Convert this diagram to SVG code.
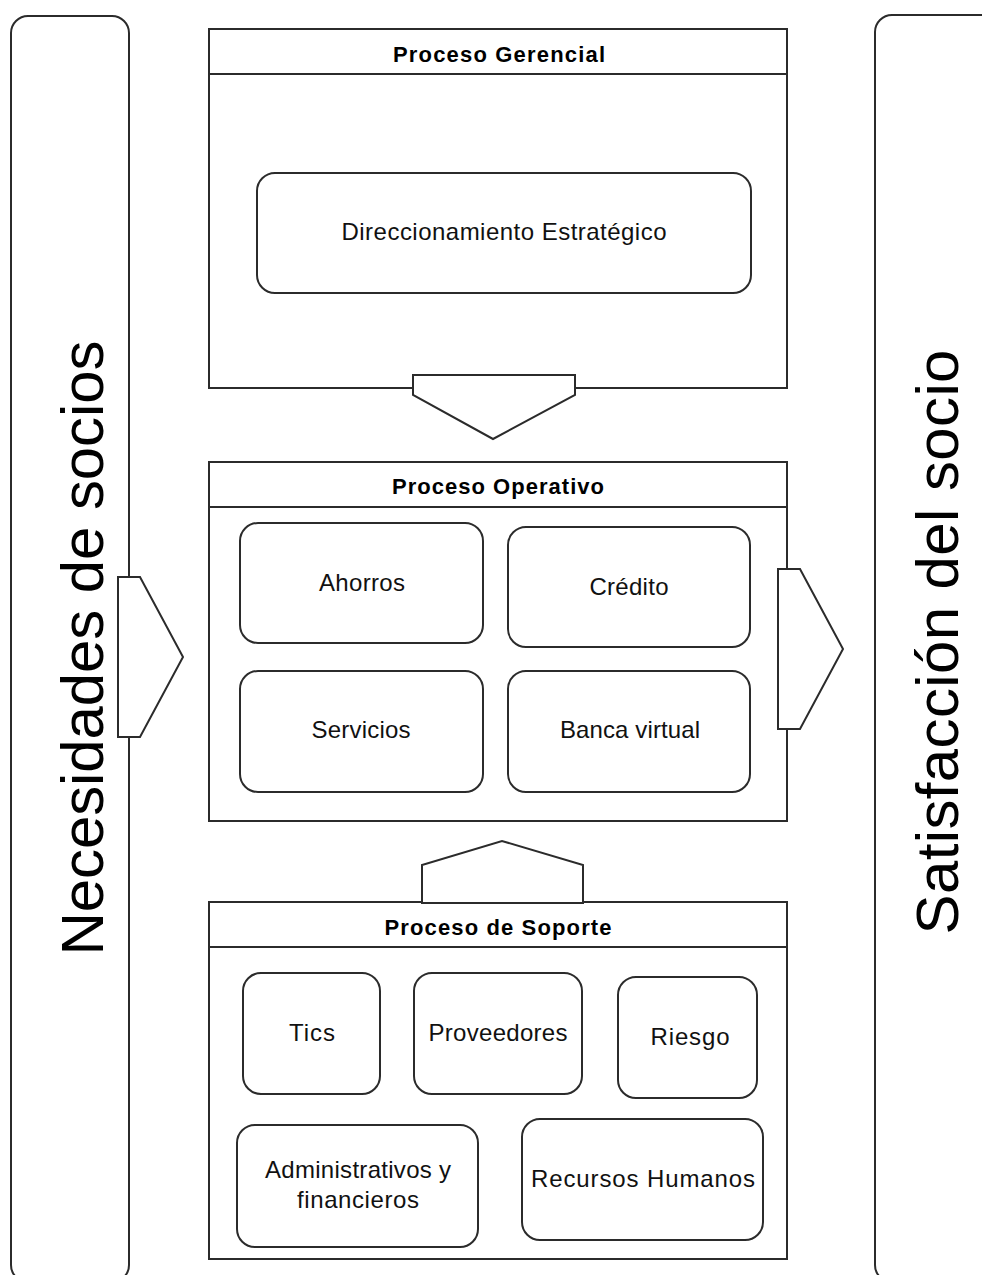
<svg xmlns="http://www.w3.org/2000/svg" width="982" height="1275" viewBox="0 0 982 1275">
<style>
.box{fill:#fff;stroke:#2b2b2b;stroke-width:2}
.line{fill:none;stroke:#2b2b2b;stroke-width:2}
.hdr{font-family:"Liberation Sans",Arial,sans-serif;font-weight:bold;font-size:22px;fill:#000;text-anchor:middle}
.lbl{font-family:"Liberation Sans",Arial,sans-serif;font-size:24px;fill:#111;text-anchor:middle}
.big{font-family:"Liberation Sans",Arial,sans-serif;font-size:60px;fill:#000;text-anchor:middle}
</style>
<rect width="982" height="1275" fill="#fff"/>
<g id="necesidades">
<rect class="box" x="11" y="16" width="118" height="1266" rx="17"/>
<text class="big" transform="translate(103,648) rotate(-90)" textLength="615">Necesidades de socios</text>
</g>
<g id="satisfaccion">
<rect class="box" x="875" y="15" width="130" height="1267" rx="17"/>
<text class="big" transform="translate(958,642) rotate(-90)" textLength="585">Satisfacción del socio</text>
</g>
<g id="gerencial">
<rect class="box" x="209" y="29" width="578" height="359"/>
<line class="line" x1="209" y1="74" x2="787" y2="74"/>
<text class="hdr" x="499" y="62" textLength="212">Proceso Gerencial</text>
<g id="direccionamiento">
<rect class="box" x="257" y="173" width="494" height="120" rx="18"/>
<text class="lbl" x="504" y="240" textLength="325">Direccionamiento Estratégico</text>
</g>
</g>
<g id="operativo">
<rect class="box" x="209" y="462" width="578" height="359"/>
<line class="line" x1="209" y1="507" x2="787" y2="507"/>
<text class="hdr" x="498" y="494" textLength="212">Proceso Operativo</text>
<g id="ahorros">
<rect class="box" x="240" y="523" width="243" height="120" rx="18"/>
<text class="lbl" x="362" y="591" textLength="86">Ahorros</text>
</g>
<g id="credito">
<rect class="box" x="508" y="527" width="242" height="120" rx="18"/>
<text class="lbl" x="629" y="595" textLength="79">Crédito</text>
</g>
<g id="servicios">
<rect class="box" x="240" y="671" width="243" height="121" rx="18"/>
<text class="lbl" x="361" y="738" textLength="99">Servicios</text>
</g>
<g id="banca">
<rect class="box" x="508" y="671" width="242" height="121" rx="18"/>
<text class="lbl" x="630" y="738" textLength="140">Banca virtual</text>
</g>
</g>
<g id="soporte">
<rect class="box" x="209" y="902" width="578" height="357"/>
<line class="line" x1="209" y1="947" x2="787" y2="947"/>
<text class="hdr" x="498" y="935" textLength="227">Proceso de Soporte</text>
<g id="tics">
<rect class="box" x="243" y="973" width="137" height="121" rx="18"/>
<text class="lbl" x="312" y="1041" textLength="46">Tics</text>
</g>
<g id="proveedores">
<rect class="box" x="414" y="973" width="168" height="121" rx="18"/>
<text class="lbl" x="498" y="1041" textLength="139">Proveedores</text>
</g>
<g id="riesgo">
<rect class="box" x="618" y="977" width="139" height="121" rx="18"/>
<text class="lbl" x="690" y="1045" textLength="79">Riesgo</text>
</g>
<g id="administrativos">
<rect class="box" x="237" y="1125" width="241" height="122" rx="18"/>
<text class="lbl" x="358" y="1178" textLength="186">Administrativos y</text>
<text class="lbl" x="358" y="1208" textLength="122">financieros</text>
</g>
<g id="rrhh">
<rect class="box" x="522" y="1119" width="241" height="121" rx="18"/>
<text class="lbl" x="643" y="1187" textLength="224">Recursos Humanos</text>
</g>
</g>
<g id="connectors">
<polygon class="box" points="413,375 575,375 575,395 493,439 413,395"/>
<polygon class="box" points="422,903 422,865 502,841 583,865 583,903"/>
<polygon class="box" points="118,577 140,577 183,657 140,737 118,737"/>
<polygon class="box" points="778,569 800,569 843,649 800,729 778,729"/>
</g>
</svg>
